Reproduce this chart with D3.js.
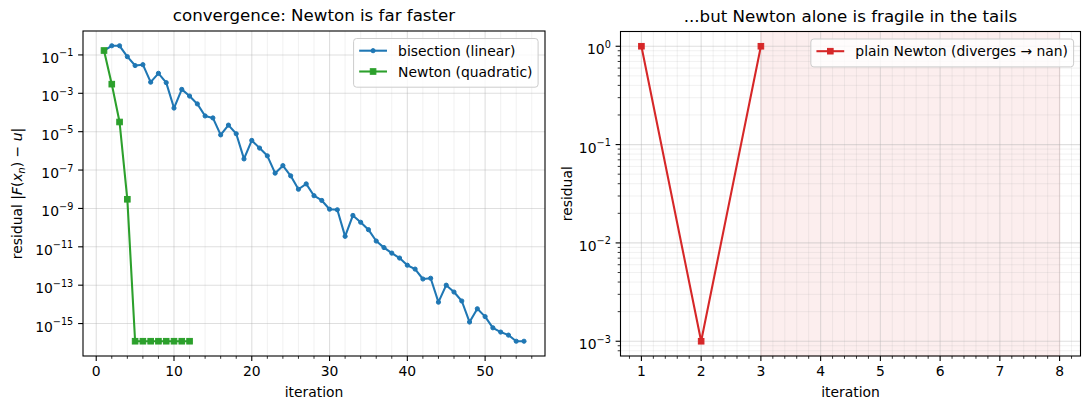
<!DOCTYPE html>
<html><head><meta charset="utf-8">
<script src="https://cdn.jsdelivr.net/npm/d3@7"></script>
<style>body{margin:0;background:#fff} svg{display:block} text{font-family:"DejaVu Sans",sans-serif;fill:#000}</style>
</head><body><svg id="c" width="1089" height="409"></svg>
<script>
// ---------------- data ----------------
const bisectionResidual = [
  1.7e-1, 3.0e-1, 3.0e-1, 8.1e-2, 2.8e-2, 3.1e-2, 3.8e-3, 1.1e-2, 3.6e-3, 1.7e-4,
  1.6e-3, 7.2e-4, 2.8e-4, 6.6e-5, 5.2e-5, 6.8e-6, 2.2e-5, 7.8e-6, 3.8e-7, 3.5e-6,
  1.4e-6, 5.5e-7, 6.9e-8, 1.7e-7, 5.0e-8, 1.0e-8, 1.9e-8, 4.6e-9, 2.6e-9, 9.1e-10,
  8.5e-10, 3.5e-11, 4.3e-10, 1.9e-10, 7.8e-11, 2.0e-11, 9.1e-12, 4.7e-12, 2.6e-12, 1.1e-12,
  6.9e-13, 2.1e-13, 2.3e-13, 1.3e-14, 1.0e-13, 4.4e-14, 1.5e-14, 1.2e-15, 5.9e-15, 2.3e-15,
  6.0e-16, 3.6e-16, 2.5e-16, 1.2e-16, 1.2e-16
];
const newtonResidual = [1.7e-1, 3.0e-3, 3.2e-5, 3.0e-9, 1.2e-16, 1.2e-16, 1.2e-16, 1.2e-16, 1.2e-16, 1.2e-16, 1.2e-16, 1.2e-16];
const plainNewtonResidual = [1, 1e-3, 1, NaN, NaN, NaN, NaN, NaN];
const divergeSpan = [3, 8];
const leftXTicks = [0, 10, 20, 30, 40, 50];
const leftXMinorStep = 2;
const leftYTickExps = [-1, -3, -5, -7, -9, -11, -13, -15];
const rightXTicks = [1, 2, 3, 4, 5, 6, 7, 8];
const rightXMinorStep = 0.2;
const rightYTickExps = [0, -1, -2, -3];
const titles = ["convergence: Newton is far faster", "...but Newton alone is fragile in the tails"];
const legendLeft = ["bisection (linear)", "Newton (quadratic)"];
const legendRight = ["plain Newton (diverges \u2192 nan)"];

const C = {blue: "#1f77b4", green: "#2ca02c", red: "#d62728"};
const FS = 13.9;
const svg = d3.select("#c");

const boxL = {x0: 83, x1: 545, y0: 31, y1: 356};
const boxR = {x0: 620.5, x1: 1080.5, y0: 31.5, y1: 356};

function padLin(ext) { const r = ext[1] - ext[0]; return [ext[0] - 0.05 * r, ext[1] + 0.05 * r]; }
function padLog(ext) {
  const a = Math.log10(ext[0]), b = Math.log10(ext[1]), r = b - a;
  return [Math.pow(10, a - 0.05 * r), Math.pow(10, b + 0.05 * r)];
}

// scales
const xL = d3.scaleLinear().domain(padLin([1, bisectionResidual.length])).range([boxL.x0, boxL.x1]);
const allL = bisectionResidual.concat(newtonResidual);
const yL = d3.scaleLog().domain(padLog(d3.extent(allL))).range([boxL.y1, boxL.y0]);
const xR = d3.scaleLinear().domain(padLin([1, plainNewtonResidual.length])).range([boxR.x0, boxR.x1]);
const yR = d3.scaleLog().domain(padLog(d3.extent(plainNewtonResidual.filter(v => !isNaN(v))))).range([boxR.y1, boxR.y0]);

function minorRange(scale, step) {
  const d = scale.domain(); const out = [];
  const s = Math.ceil(d[0] / step - 1e-9);
  for (let k = s; k * step <= d[1] + 1e-9; k++) out.push(+(k * step).toFixed(6));
  return out;
}
function logMinors(scale) {
  const d = scale.domain(); const out = [];
  const a = Math.floor(Math.log10(d[0])), b = Math.ceil(Math.log10(d[1]));
  for (let e = a; e <= b; e++) for (let m = 2; m <= 9; m++) {
    const v = m * Math.pow(10, e); if (v >= d[0] && v <= d[1]) out.push(v);
  }
  return out;
}

function supLabel(sel, exp) {
  sel.text("10");
  sel.append("tspan").attr("dy", -6.5).attr("font-size", 9.7).text(exp < 0 ? "\u2212" + (-exp) : String(exp));
}

function drawPanel(box, x, y, o) {
  const g = svg.append("g");
  // background patches (span)
  if (o.span) {
    g.append("rect").attr("x", x(o.span[0])).attr("y", box.y0).attr("width", x(o.span[1]) - x(o.span[0])).attr("height", box.y1 - box.y0)
      .attr("fill", C.red).attr("fill-opacity", 0.08).attr("stroke", C.red).attr("stroke-opacity", 0.08).attr("stroke-width", 1.4);
  }
  const grid = g.append("g");
  // minor grid
  o.xMinor.forEach(v => { if (!o.xMajor.includes(v)) grid.append("line").attr("x1", x(v)).attr("x2", x(v)).attr("y1", box.y0).attr("y2", box.y1).attr("stroke", "#b0b0b0").attr("stroke-opacity", 0.22).attr("stroke-width", 0.8); });
  (o.yMinor || []).forEach(v => grid.append("line").attr("y1", y(v)).attr("y2", y(v)).attr("x1", box.x0).attr("x2", box.x1).attr("stroke", "#b0b0b0").attr("stroke-opacity", 0.22).attr("stroke-width", 0.8));
  // major grid
  o.xMajor.forEach(v => grid.append("line").attr("x1", x(v)).attr("x2", x(v)).attr("y1", box.y0).attr("y2", box.y1).attr("stroke", "#b0b0b0").attr("stroke-opacity", 0.4).attr("stroke-width", 1.1));
  o.yMajor.forEach(v => grid.append("line").attr("y1", y(v)).attr("y2", y(v)).attr("x1", box.x0).attr("x2", box.x1).attr("stroke", "#b0b0b0").attr("stroke-opacity", 0.4).attr("stroke-width", 1.1));

  // series
  o.series.forEach(s => {
    const line = d3.line().defined(d => !isNaN(d)).x((d, i) => x(i + 1)).y(d => y(d));
    g.append("path").attr("d", line(s.values)).attr("fill", "none").attr("stroke", s.color).attr("stroke-width", 2.08).attr("stroke-linejoin", "round");
    const pts = s.values.map((v, i) => [i + 1, v]).filter(p => !isNaN(p[1]));
    if (s.marker === "o") {
      g.selectAll(null).data(pts).enter().append("circle").attr("cx", p => x(p[0])).attr("cy", p => y(p[1])).attr("r", 2.1)
        .attr("fill", s.color).attr("stroke", s.color).attr("stroke-width", 1);
    } else {
      const h = 2.8;
      g.selectAll(null).data(pts).enter().append("rect").attr("x", p => x(p[0]) - h).attr("y", p => y(p[1]) - h).attr("width", 2 * h).attr("height", 2 * h)
        .attr("fill", s.color).attr("stroke", s.color).attr("stroke-width", 1);
    }
  });

  // spines
  g.append("rect").attr("x", box.x0).attr("y", box.y0).attr("width", box.x1 - box.x0).attr("height", box.y1 - box.y0)
    .attr("fill", "none").attr("stroke", "#000").attr("stroke-width", 1.1);

  // x ticks
  const xAxis = g.append("g");
  o.xMinor.forEach(v => { if (!o.xMajor.includes(v)) xAxis.append("line").attr("x1", x(v)).attr("x2", x(v)).attr("y1", box.y1).attr("y2", box.y1 + 2.8).attr("stroke", "#000").attr("stroke-width", 0.8); });
  o.xMajor.forEach(v => {
    xAxis.append("line").attr("x1", x(v)).attr("x2", x(v)).attr("y1", box.y1).attr("y2", box.y1 + 4.9).attr("stroke", "#000").attr("stroke-width", 1.1);
    xAxis.append("text").attr("x", x(v)).attr("y", box.y1 + 20.3).attr("text-anchor", "middle").attr("font-size", FS).text(v);
  });
  // y ticks
  (o.yMinor || []).forEach(v => g.append("line").attr("x1", box.x0 - 2.8).attr("x2", box.x0).attr("y1", y(v)).attr("y2", y(v)).attr("stroke", "#000").attr("stroke-width", 0.8));
  o.yMajor.forEach((v, i) => {
    g.append("line").attr("x1", box.x0 - 4.9).attr("x2", box.x0).attr("y1", y(v)).attr("y2", y(v)).attr("stroke", "#000").attr("stroke-width", 1.1);
    const t = g.append("text").attr("x", box.x0 - 9.7).attr("y", y(v) + 8).attr("text-anchor", "end").attr("font-size", FS);
    supLabel(t, o.yExps[i]);
  });

  // title & x label
  g.append("text").attr("x", (box.x0 + box.x1) / 2).attr("y", box.y0 - 10).attr("text-anchor", "middle").attr("font-size", 16.67).text(o.title);
  g.append("text").attr("x", (box.x0 + box.x1) / 2).attr("y", 397).attr("text-anchor", "middle").attr("font-size", FS).text("iteration");

  // legend
  const lg = g.append("g");
  const rowH = 20.8;
  const texts = o.legend.map((s, i) => lg.append("text").attr("font-size", FS).text(s.label));
  const tw = d3.max(texts, t => t.node().getComputedTextLength());
  const bw = 5.6 + 27.8 + 11.1 + tw + 5.6;
  const bh = 5.6 * 2 + o.legend.length * rowH - 6.9 + 2.8;
  const bx = box.x1 - 6.9 - bw, by = box.y0 + 7.5;
  lg.insert("rect", ":first-child").attr("x", bx).attr("y", by).attr("width", bw).attr("height", bh).attr("rx", 3)
    .attr("fill", "#fff").attr("fill-opacity", 0.8).attr("stroke", "#cccccc").attr("stroke-width", 1);
  o.legend.forEach((s, i) => {
    const cy = by + 12.2 + i * rowH;
    const lx0 = bx + 5.6, lx1 = lx0 + 27.8, mx = (lx0 + lx1) / 2;
    lg.append("line").attr("x1", lx0).attr("x2", lx1).attr("y1", cy).attr("y2", cy).attr("stroke", s.color).attr("stroke-width", 2.08);
    if (s.marker === "o") lg.append("circle").attr("cx", mx).attr("cy", cy).attr("r", 2.1).attr("fill", s.color).attr("stroke", s.color).attr("stroke-width", 1);
    else lg.append("rect").attr("x", mx - 2.8).attr("y", cy - 2.8).attr("width", 5.6).attr("height", 5.6).attr("fill", s.color).attr("stroke", s.color).attr("stroke-width", 1);
    texts[i].attr("x", lx1 + 11.1).attr("y", cy + 5);
  });
  return g;
}

drawPanel(boxL, xL, yL, {
  xMajor: leftXTicks, xMinor: minorRange(xL, leftXMinorStep),
  yMajor: leftYTickExps.map(e => Math.pow(10, e)), yExps: leftYTickExps,
  title: titles[0],
  series: [
    {values: bisectionResidual, color: C.blue, marker: "o"},
    {values: newtonResidual, color: C.green, marker: "s"}
  ],
  legend: [
    {label: legendLeft[0], color: C.blue, marker: "o"},
    {label: legendLeft[1], color: C.green, marker: "s"}
  ]
});

drawPanel(boxR, xR, yR, {
  xMajor: rightXTicks, xMinor: minorRange(xR, rightXMinorStep),
  yMajor: rightYTickExps.map(e => Math.pow(10, e)), yExps: rightYTickExps, yMinor: logMinors(yR),
  title: titles[1], span: divergeSpan,
  series: [{values: plainNewtonResidual, color: C.red, marker: "s"}],
  legend: [{label: legendRight[0], color: C.red, marker: "s"}]
});

// y labels
const yl = svg.append("text").attr("transform", `translate(22,${(boxL.y0 + boxL.y1) / 2}) rotate(-90)`).attr("text-anchor", "middle").attr("font-size", FS);
yl.append("tspan").text("residual |");
yl.append("tspan").attr("font-style", "italic").text("F");
yl.append("tspan").text("(");
yl.append("tspan").attr("font-style", "italic").text("x");
yl.append("tspan").attr("font-style", "italic").attr("font-size", 9.7).attr("dy", 3).text("n");
yl.append("tspan").attr("dy", -3).text(") \u2212 ");
yl.append("tspan").attr("font-style", "italic").text("u");
yl.append("tspan").text("|");

svg.append("text").attr("transform", `translate(572,${(boxR.y0 + boxR.y1) / 2}) rotate(-90)`).attr("text-anchor", "middle").attr("font-size", FS).text("residual");
</script></body></html>
